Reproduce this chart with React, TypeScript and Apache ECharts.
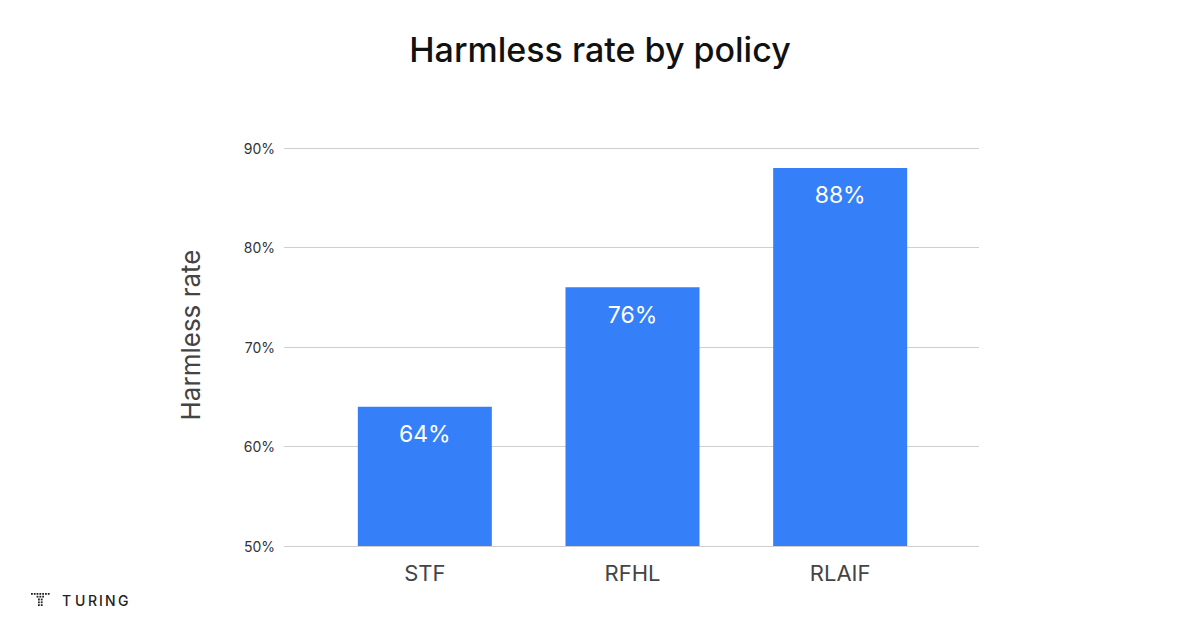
import React, { useEffect, useRef } from "react";
import * as echarts from "echarts";

const categories = ["STF", "RFHL", "RLAIF"];
const harmlessRate = [64, 76, 88];
const yTicks = [50, 60, 70, 80, 90];
const brandLetters = ["T", "U", "R", "I", "N", "G"];

export default function App() {
  const ref = useRef<HTMLDivElement>(null);
  useEffect(() => {
    if (!ref.current) return;
    const chart = echarts.init(ref.current, undefined, { renderer: "svg" });
    const font = "Inter, 'Noto Sans', sans-serif";
    const logo: any[] = [];
    // dotted T logo
    [0, 1, 2, 3, 4, 5, 6].forEach((i) => {
      logo.push({ type: "rect", shape: { x: 31 + i * 2.8, y: 593, width: 1.8, height: 1.8 }, style: { fill: "#222" } });
    });
    [0, 1, 2].forEach((i) => {
      logo.push({ type: "rect", shape: { x: 36.6 + i * 2.8, y: 595.8, width: 1.8, height: 1.8 }, style: { fill: "#222" } });
    });
    [0, 1].forEach((c) => {
      [2, 3, 4].forEach((r) => {
        logo.push({ type: "rect", shape: { x: 38 + c * 2.8, y: 593 + r * 2.8, width: 1.8, height: 1.8 }, style: { fill: "#222" } });
      });
    });
    const letterX = [62, 75, 88, 99, 105, 118];
    brandLetters.forEach((ch, i) => {
      logo.push({
        type: "text",
        x: letterX[i],
        y: 600,
        style: { text: ch, fontFamily: font, fontSize: 14, fontWeight: 500, fill: "#222", textAlign: "left", textVerticalAlign: "middle" },
      });
    });
    chart.setOption({
      animation: false,
      backgroundColor: "#ffffff",
      title: {
        text: "Harmless rate by policy",
        left: "center",
        top: 27,
        textStyle: { fontFamily: font, fontSize: 34, fontWeight: 500, color: "#111" },
      },
      grid: [
        { left: 284, right: 221, top: 148, bottom: 82 },
        { left: 321, right: 256, top: 148, bottom: 82 },
      ],
      xAxis: [
        { type: "category", gridIndex: 0, data: categories, show: false },
        {
          type: "category",
          gridIndex: 1,
          data: categories,
          axisLine: { show: false },
          axisTick: { show: false },
          axisLabel: { fontFamily: font, fontSize: 22, color: "#444", margin: 16 },
        },
      ],
      yAxis: [
        {
          type: "value",
          gridIndex: 0,
          min: yTicks[0],
          max: yTicks[yTicks.length - 1],
          interval: 10,
          axisLabel: { formatter: "{value}%", fontFamily: font, fontSize: 14, color: "#333", margin: 9 },
          splitLine: { lineStyle: { color: "#cfcfcf", width: 1 } },
          axisLine: { show: false },
          axisTick: { show: false },
        },
        {
          type: "value",
          gridIndex: 1,
          min: yTicks[0],
          max: yTicks[yTicks.length - 1],
          interval: 10,
          show: false,
          splitLine: { show: false },
        },
      ],
      series: [
        {
          type: "bar",
          xAxisIndex: 1,
          yAxisIndex: 1,
          data: harmlessRate,
          barWidth: 134,
          itemStyle: { color: "#3580f8" },
          label: {
            show: true,
            position: "insideTop",
            distance: 16,
            formatter: "{c}%",
            fontFamily: font,
            fontSize: 23,
            color: "#ffffff",
          },
        },
      ],
      graphic: [
        ...logo,
        {
          type: "text",
          x: 190,
          y: 335,
          rotation: Math.PI / 2,
          style: { text: "Harmless rate", fontFamily: font, fontSize: 26, fill: "#444", textAlign: "center", textVerticalAlign: "middle" },
        },
      ],
    });
    return () => chart.dispose();
  }, []);
  return <div ref={ref} style={{ position: "fixed", left: 0, top: 0, width: 1200, height: 628 }} />;
}
